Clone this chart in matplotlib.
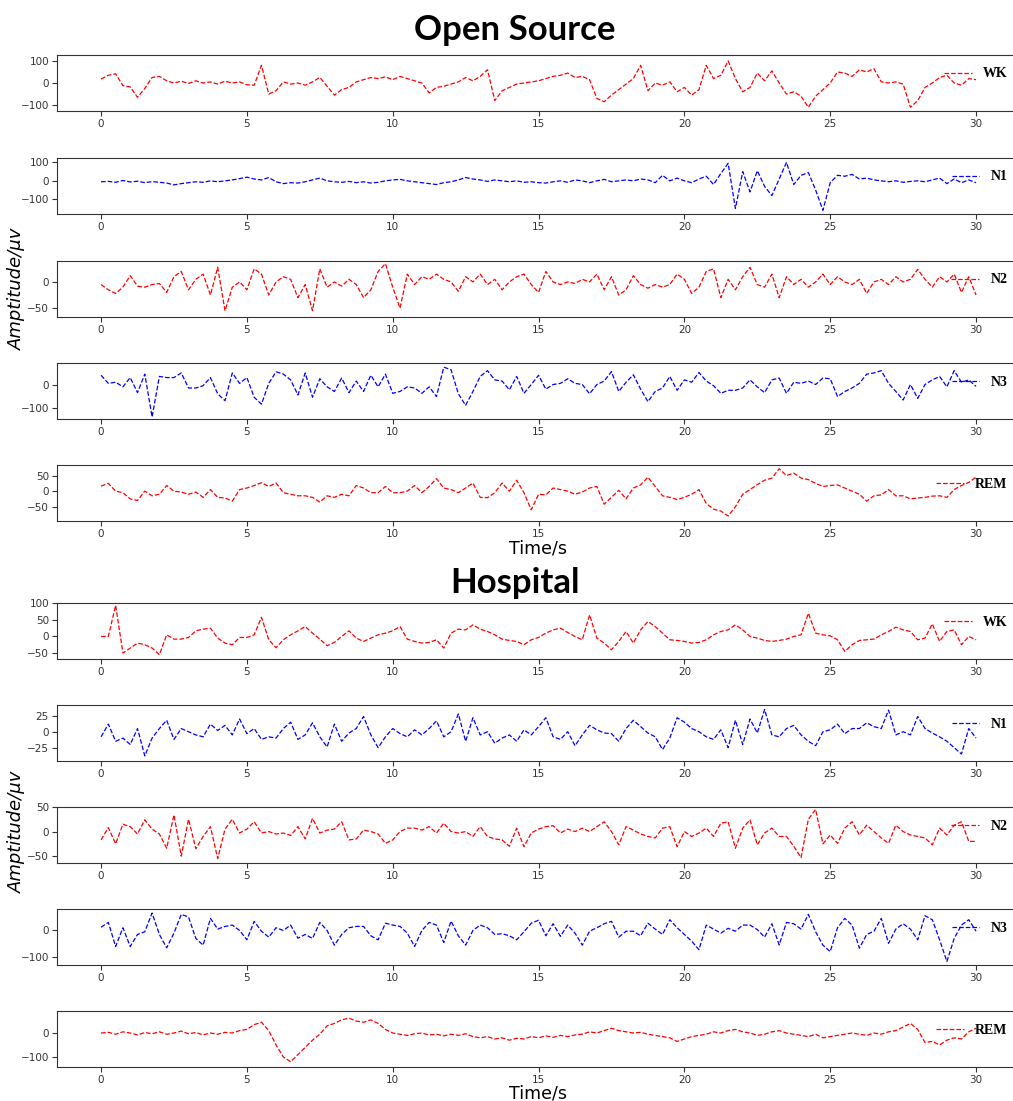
# EEG examples of the five sleep stages, open source data vs hospital data
import numpy as np
import matplotlib.pyplot as plt

# time axis: one reading every 0.25 s over the 30 s epoch
time = np.linspace(0, 30, 121)
stages = ["WK", "N1", "N2", "N3", "REM"]
colours = ["red", "blue", "red", "blue", "red"]

# Open Source signals (uV)
os_wk = [18, 35, 42, -12, -18, -65, -25, 25,
         30, 10, 0, 8, -2, 10, 0, 5,
         -5, 8, 0, 5, -8, -10, 80, -50,
         -35, 5, -5, 0, -10, 5, 25, -15,
         -55, -30, -20, 5, 15, 25, 20, 28,
         15, 30, 20, 10, 0, -45, -20, -15,
         -5, 5, 25, 10, 30, 60, -80, -35,
         -20, -5, 0, 5, 10, 20, 30, 35,
         45, 25, 30, 15, -70, -85, -55, -30,
         -5, 20, 80, -35, 0, -10, 5, -40,
         -20, -55, -30, 80, 20, 35, 100, 20,
         -40, -20, 45, 10, 55, 0, -50, -40,
         -60, -110, -60, -30, 0, 50, 45, 30,
         60, 50, 65, 5, 0, 5, -5, -110,
         -80, -20, 0, 25, 35, 0, -10, 20,
         15]
os_n1 = [-5, -3, -8, 2, -6, -2, -10, -4,
         -8, -12, -22, -15, -10, -5, -8, 0,
         -5, 0, 5, 12, 20, 10, 5, 18,
         -5, -15, -10, -12, -5, 5, 15, 0,
         -5, -8, -3, -10, -5, -12, -8, 0,
         5, 8, 0, -5, -10, -15, -20, -10,
         -5, 5, 18, 10, 5, -3, 5, 0,
         -5, 0, -8, -5, -10, -12, -5, 0,
         -8, 5, 0, -10, 0, 8, -5, 0,
         5, 0, 10, 5, -10, 30, 0, 15,
         0, -10, 10, 25, -20, 40, 95, -150,
         50, -60, 55, -30, -80, 10, 100, -20,
         30, 45, -50, -160, -10, 30, 25, 35,
         10, 15, 5, 0, -5, 0, -8, -3,
         0, -5, 5, 15, -15, 10, -10, 5,
         -10]
os_n2 = [-5, -15, -22, -10, 12, -8, -10, -5,
         -3, -20, 10, 20, -15, 5, 15, -25,
         28, -55, -10, 0, -15, 25, 15, -25,
         0, 10, 5, -30, -5, -55, 25, -10,
         0, -8, 5, -5, -30, -15, 20, 35,
         -10, -50, 15, -5, 10, 5, 15, 5,
         0, -18, 10, 0, 15, -5, 5, -15,
         0, 10, 15, -5, -20, 20, 0, -5,
         0, -3, 5, 0, 15, -15, 10, -25,
         -15, 12, -5, -12, -5, -10, -5, 15,
         5, -22, -10, 20, 25, -30, 5, -15,
         10, 28, -5, -10, 15, -30, 10, -5,
         5, -10, 0, 15, -5, 10, 0, -5,
         5, -22, 0, 5, -5, 10, 0, 5,
         24, 5, -10, 10, 0, 15, -20, 10,
         -25]
os_n3 = [40, 5, 10, -10, 30, -35, 45, -140,
         35, 30, 30, 50, -15, -15, -5, 30,
         -40, -70, 50, 5, 30, -55, -85, 5,
         55, 45, 20, -45, 50, -55, 25, -10,
         -30, 28, -35, 15, -30, 40, -10, 45,
         -38, -30, -10, -15, -38, -10, -52, 75,
         64, -40, -90, -30, 35, 60, 20, 15,
         -23, 35, -38, 0, 40, -20, 0, 5,
         25, 5, 0, -40, 0, 15, 56, -30,
         10, 42, -20, -74, -30, -15, 35, -25,
         20, 10, 52, 15, -5, -38, -25, -25,
         -15, 20, -10, -35, 20, 28, -38, 10,
         5, 15, 0, 28, 25, -52, -30, -15,
         5, 45, 50, 60, 5, -30, -67, 0,
         -60, 0, 20, 35, -10, 60, 10, 20,
         -8]
os_rem = [16, 25, 0, -5, -25, -30, 0, -15,
          -10, 18, 0, -3, -10, -3, -20, 5,
          -20, -22, -32, 5, 10, 18, 27, 15,
          26, -5, -10, -15, -15, -20, -35, -15,
          -20, -10, -15, 18, 10, -5, -5, 15,
          -5, -5, 0, 18, -5, 15, 40, 10,
          5, -5, 10, 26, -20, -21, -5, 26,
          0, 35, -5, -60, -10, -12, 10, 5,
          0, -10, -3, 10, 15, -42, -20, 3,
          -25, 10, 20, 45, 15, -15, -20, -27,
          -20, -10, 5, -40, -58, -64, -80, -50,
          -10, 5, 21, 35, 42, 72, 50, 58,
          42, 37, 25, 15, 18, 20, 10, 0,
          -10, -32, -15, -12, 5, -15, -15, -25,
          -22, -20, -16, -15, -20, 5, 18, 28,
          45]

# Hospital signals (uV)
h_wk = [0, 0, 94, -50, -35, -20, -25, -35,
        -55, 5, -8, -8, -3, 17, 22, 25,
        -5, -20, -25, -3, -3, 5, 58, -10,
        -34, -10, 5, 17, 30, 10, -8, -28,
        -18, 0, 17, -5, -15, -5, 5, 10,
        17, 30, -8, -15, -20, -18, -10, -35,
        10, 22, 20, 35, 22, 15, 5, -8,
        -12, -15, -25, -10, -3, 10, 20, 25,
        12, 0, -10, 65, -5, -20, -40, -15,
        15, -20, 20, 45, 30, 10, -10, -12,
        -15, -20, -18, -10, 5, 15, 20, 35,
        20, 0, -5, -12, -15, -12, -8, 0,
        5, 70, 10, 5, 2, -10, -45, -25,
        -12, -10, -8, 5, 15, 28, 20, 15,
        -10, -5, 38, -15, 15, 20, -25, 0,
        -10]
h_n1 = [-8, 12, -15, -10, -20, 5, -38, -10,
        5, 18, -12, 5, 0, -5, -8, 12,
        2, 10, -5, 20, -3, 5, -12, -8,
        -10, 5, 15, -12, -5, 14, -8, -24,
        12, -15, -2, 5, 24, -5, -25, -8,
        5, -3, -8, 3, -5, 5, 17, -8,
        0, 28, -15, 22, -5, 0, -18, -10,
        -5, -15, 3, -5, 8, 22, -8, -12,
        0, -22, -5, 10, 3, -2, -3, -15,
        5, 18, 8, -2, -8, -28, -10, 22,
        15, 5, 0, -8, -12, 3, -25, 18,
        -20, 20, -2, 35, -5, -8, 5, 10,
        -5, -15, -22, 0, 3, 12, -3, 5,
        5, 14, 8, 5, 34, -5, 0, -5,
        24, 5, -2, -8, -15, -25, -35, 5,
        -10]
h_n2 = [-17, 8, -25, 15, 10, -5, 24, 5,
        -5, -34, 34, -50, 25, -35, -10, 10,
        -55, 5, 25, -3, 5, 20, -3, 0,
        -5, -3, -8, 10, -15, 27, -3, 3,
        5, 20, -17, -15, 3, 0, -5, -24,
        -17, 0, 7, 7, 3, 10, -3, 17,
        0, -3, 0, -10, 10, -10, -15, -17,
        -30, 7, -31, -3, 5, 10, 12, -3,
        5, 0, 7, 0, 10, 20, 0, -27,
        10, 3, -5, -10, -13, 7, 10, -31,
        0, -10, -3, 7, -10, 17, 20, -34,
        7, 24, -27, -3, 7, -10, -10, -30,
        -53, 25, 45, -25, -7, -24, 7, 20,
        -7, 13, 0, -13, -24, 13, 0, -7,
        -10, -13, -27, 7, -7, 13, 20, -20,
        -20]
h_n3 = [12, 30, -60, 10, -60, -15, -5, 65,
        -15, -65, -10, 60, 50, -30, -55, 45,
        5, 15, 20, 0, -35, 34, -3, -25,
        10, 0, 20, -29, -15, -30, 30, 0,
        -55, -15, 10, 15, 15, -20, -35, 27,
        20, 15, -10, -60, 0, 30, 20, -45,
        35, -20, -55, 0, 20, 10, -15, -12,
        -20, -35, -5, 27, 38, -20, 25, -22,
        20, -10, -55, -3, 10, 25, 34, -25,
        -3, -3, -20, 27, 5, -15, 40, 10,
        -15, -40, -72, 20, 5, -10, 8, -3,
        20, 20, 3, -25, 25, -54, 30, 25,
        5, 60, -5, -55, -79, 10, 45, 20,
        -66, -15, -3, 45, -48, 5, 25, 5,
        -35, 55, 40, -35, -116, -30, 20, 40,
        -3]
h_rem = [0, 3, -5, 5, 0, -8, 2, -3,
         5, -5, 0, 8, -3, 2, -8, 0,
         -5, 3, 0, 10, 15, 35, 45, 10,
         -50, -100, -120, -90, -60, -30, -5, 30,
         40, 55, 62, 50, 45, 55, 40, 15,
         0, -5, -10, -3, 0, -8, -5, -12,
         -5, -10, -3, -15, -20, -15, -25, -20,
         -30, -22, -25, -15, -20, -12, -18, -10,
         -15, -8, -5, 5, 0, 10, 20, 10,
         5, 0, 3, -5, -10, -15, -20, -35,
         -25, -15, -10, -5, 5, 0, 10, 15,
         5, 0, -10, -5, 5, 10, 0, -5,
         -10, -15, -5, -20, -15, -10, -5, 0,
         -5, -10, 0, -5, 5, 10, 25, 40,
         15, -40, -35, -50, -30, -20, -25, 5,
         20]

open_source = [os_wk, os_n1, os_n2, os_n3, os_rem]
hospital = [h_wk, h_n1, h_n2, h_n3, h_rem]

W, H = 1013, 1101
fig = plt.figure(figsize=(W / 100, H / 100), dpi=100)


def draw_group(signals, tops, ylims, yticks):
    for i in range(5):
        ax = fig.add_axes([57.3 / W, 1 - (tops[i] + 56) / H, 962.5 / W, 56 / H])
        ax.plot(time, signals[i], color=colours[i], linestyle="--",
                linewidth=0.9, label=stages[i])
        ax.set_xlim(-1.5, 31.5)
        ax.set_ylim(ylims[i])
        ax.set_xticks([0, 5, 10, 15, 20, 25, 30])
        ax.set_yticks(yticks[i])
        ax.tick_params(labelsize=7.5, length=3.5, width=0.8, pad=2.5,
                       colors="#333333")
        for s in ax.spines.values():
            s.set_color("#333333")
        ax.legend(loc="upper right", frameon=False,
                  prop={"family": "Liberation Serif", "weight": "bold", "size": 10})


draw_group(open_source, [55, 158, 261, 363, 465],
           [(-127, 127), (-180, 124), (-67, 40), (-149, 93), (-96, 84)],
           [[-100, 0, 100], [-100, 0, 100], [-50, 0], [-100, 0], [-50, 0, 50]])
draw_group(hospital, [603, 705, 807, 909, 1011],
           [(-68, 101), (-46, 42), (-64, 50), (-129, 80), (-142, 92)],
           [[-50, 0, 50, 100], [-25, 0, 25], [-50, 0, 50], [-100, 0], [-100, 0]])

# group titles, x labels and y labels
fig.text(515 / W, 1 - 30 / H, "Open Source", ha="center", va="center",
         fontsize=25, fontweight="bold", family="Lato")
fig.text(515 / W, 1 - 583 / H, "Hospital", ha="center", va="center",
         fontsize=25, fontweight="bold", family="Lato")
fig.text(538 / W, 1 - 549 / H, "Time/s", ha="center", va="center", fontsize=12.5)
fig.text(538 / W, 1 - 1094 / H, "Time/s", ha="center", va="center", fontsize=12.5)
fig.text(17 / W, 1 - 289 / H, "Amptitude/μv", rotation=90, ha="center",
         va="center", fontsize=13, style="italic")
fig.text(17 / W, 1 - 832 / H, "Amptitude/μv", rotation=90, ha="center",
         va="center", fontsize=13, style="italic")

plt.savefig("out.png", dpi=100)
